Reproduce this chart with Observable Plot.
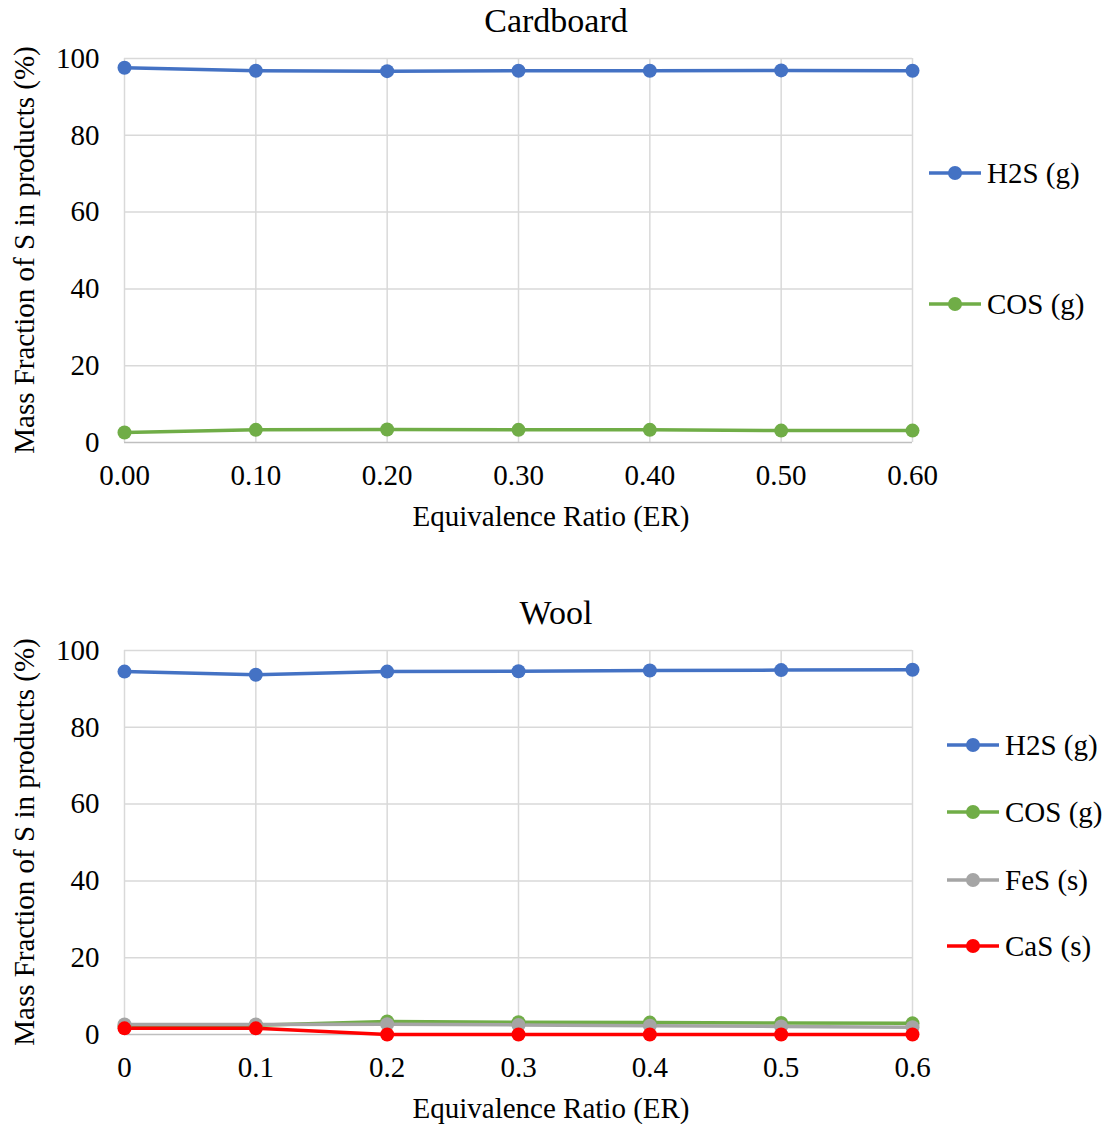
<!DOCTYPE html>
<html>
<head>
<meta charset="utf-8">
<script src="https://cdn.jsdelivr.net/npm/d3@7"></script>
<script src="https://cdn.jsdelivr.net/npm/@observablehq/plot@0.6"></script>
<style>
  body { margin: 0; background: #fff; }
  #wrap { position: relative; width: 1106px; height: 1124px; font-family: "Liberation Serif", "Times New Roman", serif; color: #000; }
  .svgbox { position: absolute; left: 0; }
  .title { position: absolute; left: 3px; width: 1106px; text-align: center; font-size: 34px; line-height: 40px; }
  .xlab { position: absolute; left: 157px; width: 788px; text-align: center; font-size: 29px; line-height: 34px; }
  .ylab { position: absolute; font-size: 29px; line-height: 34px; white-space: nowrap; transform: translate(-50%, -50%) rotate(-90deg); }
  .item { position: absolute; display: flex; align-items: center; white-space: nowrap; font-size: 29px; }
  .item svg { margin-right: 5px; }
</style>
</head>
<body>
<div id="wrap"></div>
<script>
// ---- data ----
const er = [0, 0.1, 0.2, 0.3, 0.4, 0.5, 0.6];
const cardboardTickLabels = ["0.00", "0.10", "0.20", "0.30", "0.40", "0.50", "0.60"];
const woolTickLabels = ["0", "0.1", "0.2", "0.3", "0.4", "0.5", "0.6"];
const yTicks = [0, 20, 40, 60, 80, 100];

const cardboardH2S = [97.6, 96.8, 96.7, 96.8, 96.8, 96.9, 96.8];
const cardboardCOS = [2.6, 3.3, 3.4, 3.3, 3.3, 3.1, 3.1];

const woolH2S = [94.5, 93.7, 94.5, 94.6, 94.8, 94.9, 95.0];
const woolCOS = [2.2, 2.4, 3.4, 3.2, 3.1, 3.0, 2.9];
const woolFeS = [2.6, 2.6, 2.7, 2.5, 2.3, 2.1, 1.9];
const woolCaS = [1.6, 1.6, 0.0, 0.0, 0.0, 0.0, 0.0];

const seriesNames = ["H2S (g)", "COS (g)", "FeS (s)", "CaS (s)"];
const seriesColors = ["#4472C4", "#70AD47", "#A5A5A5", "#FF0000"];

const yLabel = "Mass Fraction of S in products (%)";
const xLabel = "Equivalence Ratio (ER)";

// ---- build ----
const wrap = document.getElementById("wrap");

function makeChart(cfg) {
  const rows = [];
  cfg.series.forEach((vals, si) => {
    vals.forEach((v, i) => rows.push({ s: seriesNames[si], x: er[i], y: v }));
  });
  const labelFor = new Map(er.map((v, i) => [v, cfg.tickLabels[i]]));
  const plot = Plot.plot({
    width: 1106,
    height: 532,
    marginTop: 58,
    marginBottom: 90,
    marginLeft: 124,
    marginRight: 194,
    style: { fontFamily: "'Liberation Serif', 'Times New Roman', serif", background: "transparent", color: "#000" },
    x: { domain: [0, 0.6] },
    y: { domain: [0, 100] },
    color: { domain: seriesNames, range: seriesColors },
    marks: [
      Plot.gridX(er, { stroke: "#d9d9d9", strokeOpacity: 1, strokeWidth: 1.5 }),
      Plot.gridY(yTicks.filter(d => d > 0), { stroke: "#d9d9d9", strokeOpacity: 1, strokeWidth: 1.5 }),
      Plot.ruleY([0], { stroke: "#bfbfbf", strokeWidth: 1.5 }),
      Plot.line(rows, { x: "x", y: "y", z: "s", stroke: "s", strokeWidth: 3.5 }),
      Plot.dot(rows, { x: "x", y: "y", fill: "s", r: 7, stroke: null }),
      Plot.axisX(er, { tickSize: 0, tickPadding: 22, fontSize: 29, fill: "#000", tickFormat: d => labelFor.get(d), label: null }),
      Plot.axisY(yTicks, { tickSize: 0, tickPadding: 25, fontSize: 29, fill: "#000", label: null })
    ]
  });
  const box = document.createElement("div");
  box.className = "svgbox";
  box.style.top = cfg.top + "px";
  box.appendChild(plot);
  wrap.appendChild(box);

  const t = document.createElement("div");
  t.className = "title";
  t.style.top = (cfg.top + 1) + "px";
  t.textContent = cfg.title;
  wrap.appendChild(t);

  const xl = document.createElement("div");
  xl.className = "xlab";
  xl.style.top = (cfg.top + 499) + "px";
  xl.textContent = xLabel;
  wrap.appendChild(xl);

  const yl = document.createElement("div");
  yl.className = "ylab";
  yl.style.left = "24px";
  yl.style.top = (cfg.top + 250) + "px";
  yl.textContent = yLabel;
  wrap.appendChild(yl);

  cfg.legendYs.forEach((ly, i) => {
    const it = document.createElement("div");
    it.className = "item";
    it.style.left = cfg.legendX + "px";
    it.style.top = (cfg.top + ly - 17) + "px";
    it.style.height = "34px";
    it.innerHTML = `<svg width="54" height="16"><line x1="1" x2="53" y1="8" y2="8" stroke="${seriesColors[i]}" stroke-width="3.5"/><circle cx="27" cy="8" r="7" fill="${seriesColors[i]}"/></svg><span>${seriesNames[i]}</span>`;
    wrap.appendChild(it);
  });
}

makeChart({
  title: "Cardboard", top: 0, tickLabels: cardboardTickLabels,
  series: [cardboardH2S, cardboardCOS],
  legendX: 928, legendYs: [173, 304]
});
makeChart({
  title: "Wool", top: 592, tickLabels: woolTickLabels,
  series: [woolH2S, woolCOS, woolFeS, woolCaS],
  legendX: 946, legendYs: [745 - 592, 812 - 592, 880 - 592, 946 - 592]
});
</script>
</body>
</html>
